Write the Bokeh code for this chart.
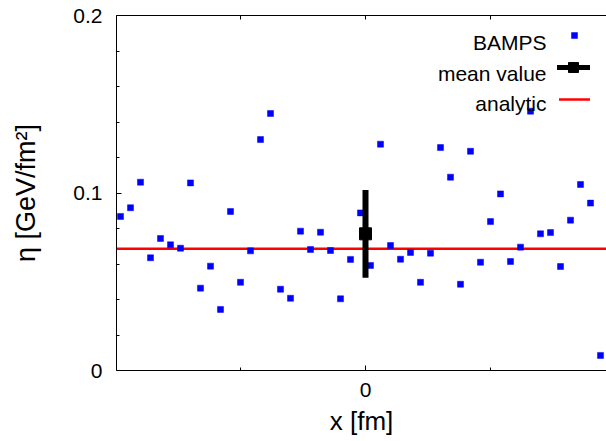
from bokeh.plotting import figure
from bokeh.models import (LinearAxis, FixedTicker, PrintfTickFormatter, Label, Range1d)
from bokeh.embed import file_html
from bokeh.resources import INLINE

# ---- data ----
x_pos = [-24.5, -23.5, -22.5, -21.5, -20.5, -19.5, -18.5, -17.5, -16.5, -15.5,
         -14.5, -13.5, -12.5, -11.5, -10.5, -9.5, -8.5, -7.5, -6.5, -5.5,
         -4.5, -3.5, -2.5, -1.5, -0.5, 0.5, 1.5, 2.5, 3.5, 4.5,
         5.5, 6.5, 7.5, 8.5, 9.5, 10.5, 11.5, 12.5, 13.5, 14.5,
         15.5, 16.5, 17.5, 18.5, 19.5, 20.5, 21.5, 22.5, 23.5]
eta_bamps = [0.0868, 0.0917, 0.1061, 0.0635, 0.0744, 0.0708, 0.0689, 0.1057, 0.0464, 0.0588,
             0.0344, 0.0896, 0.0497, 0.0674, 0.1301, 0.1448, 0.0458, 0.0407, 0.0785, 0.0682,
             0.0779, 0.0676, 0.0404, 0.0626, 0.0888, 0.0592, 0.1275, 0.0704, 0.0627, 0.0665,
             0.0497, 0.0661, 0.1256, 0.1089, 0.0486, 0.1235, 0.0610, 0.0839, 0.0995, 0.0614,
             0.0695, 0.1461, 0.0770, 0.0777, 0.0586, 0.0847, 0.1048, 0.0943, 0.0085]
mean_x = [0.0]
mean_eta = [0.077]
mean_err = [0.0247]
eta_analytic = 0.0686

x_lo, x_hi = -24.9, 24.1
y_lo, y_hi = 0.0, 0.2
y_major = [0.0, 0.1, 0.2]
y_minor = [0.02, 0.04, 0.06, 0.08, 0.12, 0.14, 0.16, 0.18]
x_major = [0.0]
x_minor = [-12.5, 12.5]

# key (legend) layout, drawn with text left of the symbol as in the reference
legend_labels = ["BAMPS", "mean value", "analytic"]
legend_text_x = 18.1
legend_text_y = [0.18496, 0.16715, 0.15025]
legend_sym_x = [20.9, 20.8, 20.9]
legend_sym_y = [0.1887, 0.1707, 0.1527]
legend_line_half = 1.55

FONT = "Liberation Sans"

p = figure(width=606, height=441, x_range=Range1d(x_lo, x_hi), y_range=Range1d(y_lo, y_hi),
           output_backend="svg", toolbar_location=None)
p.min_border_left = 116
p.min_border_right = 0
p.min_border_top = 15
p.min_border_bottom = 71
p.outline_line_color = None
p.grid.visible = False
p.background_fill_color = "white"
p.border_fill_color = "white"

# glyphs
p.line(x=[x_lo, x_hi], y=[eta_analytic, eta_analytic], line_color="#ff0000", line_width=2.5)
p.scatter(x_pos, eta_bamps, marker="square", size=6, fill_color="#0000ff",
          line_color="#0000ff", line_width=0.5)
lower = [m - e for m, e in zip(mean_eta, mean_err)]
upper = [m + e for m, e in zip(mean_eta, mean_err)]
p.segment(x0=mean_x, y0=lower, x1=mean_x, y1=upper, line_color="black", line_width=6)
p.scatter(mean_x, mean_eta, marker="square", size=12, fill_color="black", line_color="black")

# key symbols
p.scatter([legend_sym_x[0]], [legend_sym_y[0]], marker="square", size=6,
          fill_color="#0000ff", line_color="#0000ff", line_width=0.5)
p.segment(x0=[legend_sym_x[1] - legend_line_half - 0.1], y0=[legend_sym_y[1]],
          x1=[legend_sym_x[1] + legend_line_half + 0.1], y1=[legend_sym_y[1]],
          line_color="black", line_width=5)
p.scatter([legend_sym_x[1]], [legend_sym_y[1]], marker="square", size=10,
          fill_color="black", line_color="black")
p.segment(x0=[legend_sym_x[2] - legend_line_half], y0=[legend_sym_y[2]],
          x1=[legend_sym_x[2] + legend_line_half], y1=[legend_sym_y[2]],
          line_color="#ff0000", line_width=2.5)

for txt, ly in zip(legend_labels, legend_text_y):
    p.add_layout(Label(x=legend_text_x, y=ly, text=txt, text_align="right",
                       text_baseline="alphabetic", text_font=FONT,
                       text_font_size="21px", text_color="black"))

# axes
def style_axis(ax, ticker):
    ax.ticker = ticker
    ax.formatter = PrintfTickFormatter(format="%g")
    ax.axis_line_color = "black"
    ax.axis_line_width = 1
    ax.major_tick_line_color = "black"
    ax.minor_tick_line_color = "black"
    ax.major_tick_in = 5
    ax.major_tick_out = 0
    ax.minor_tick_in = 3
    ax.minor_tick_out = 0
    ax.major_label_text_font = FONT
    ax.major_label_text_font_size = "21px"
    ax.major_label_text_color = "black"
    ax.axis_label_text_font = FONT
    ax.axis_label_text_font_style = "normal"
    ax.axis_label_text_color = "black"

xax = p.xaxis[0]
style_axis(xax, FixedTicker(ticks=x_major, minor_ticks=x_minor))
xax.major_label_standoff = 12
xax.axis_label = "x [fm]"
xax.axis_label_text_font_size = "26px"
xax.axis_label_standoff = 6

yax = p.yaxis[0]
style_axis(yax, FixedTicker(ticks=y_major, minor_ticks=y_minor))
yax.major_label_standoff = 14
yax.axis_label = "η [GeV/fm²]"
yax.axis_label_text_font_size = "27px"
yax.axis_label_standoff = 29

top = LinearAxis()
style_axis(top, FixedTicker(ticks=[], minor_ticks=x_minor + x_major))
top.minor_tick_in = 4
top.major_label_standoff = 0
p.add_layout(top, "above")

open("out.html", "w").write(file_html(p, INLINE))
